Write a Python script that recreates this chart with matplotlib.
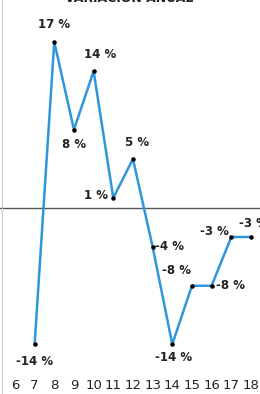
import matplotlib
matplotlib.use("Agg")
import matplotlib.pyplot as plt

# datos de la variación anual
years = [7, 8, 9, 10, 11, 12, 13, 14, 15, 16, 17, 18]
values = [-14, 17, 8, 14, 1, 5, -4, -14, -8, -8, -3, -3]
labels = ["-14 %", "17 %", "8 %", "14 %", "1 %", "5 %", "-4 %", "-14 %", "-8 %", "-8 %", "-3 %", "-3 %"]
tick_years = list(range(6, 19))

# desplazamiento de cada etiqueta (puntos) y alineación
offsets = [(0, -8, "center", "top"), (0, 8, "center", "bottom"), (0, -6, "center", "top"),
           (5, 7, "center", "bottom"), (-4, 2, "right", "center"), (3, 7, "center", "bottom"),
           (2, 0, "left", "center"), (1, -5, "center", "top"), (-1, 6, "right", "bottom"),
           (3, 0, "left", "center"), (-2, 4, "right", "center"), (2, 5, "center", "bottom")]

plt.rcParams['font.family'] = ['DejaVu Sans']

fig = plt.figure(figsize=(2.6, 3.94), dpi=100)
ax = fig.add_axes([0, 0, 1, 1])
ax.set_xlim(5.24, 18.46)
ax.set_ylim(-19.1, 21.3)
ax.axis("off")

ax.axhline(0, color="#555555", lw=1.0)
ax.axvline(5.33, color="#cccccc", lw=0.8)
ax.plot(years, values, color="#2f96dc", lw=1.8, zorder=2)
ax.scatter(years, values, s=5, color="black", zorder=3)

for x, y, t, (dx, dy, ha, va) in zip(years, values, labels, offsets):
    ax.annotate(t, (x, y), xytext=(dx, dy), textcoords="offset points",
                ha=ha, va=va, fontsize=8.5, fontweight="bold", color="#222222")

for yr in tick_years:
    ax.text(yr, -18.2, str(yr), ha="center", va="center", fontsize=9.5,
            color="#222222")

ax.text(11.8, 21.45, "VARIACION ANUAL", ha="center", va="center",
        fontsize=9, fontweight="bold", color="#222222")

fig.savefig("out.png", dpi=100)
